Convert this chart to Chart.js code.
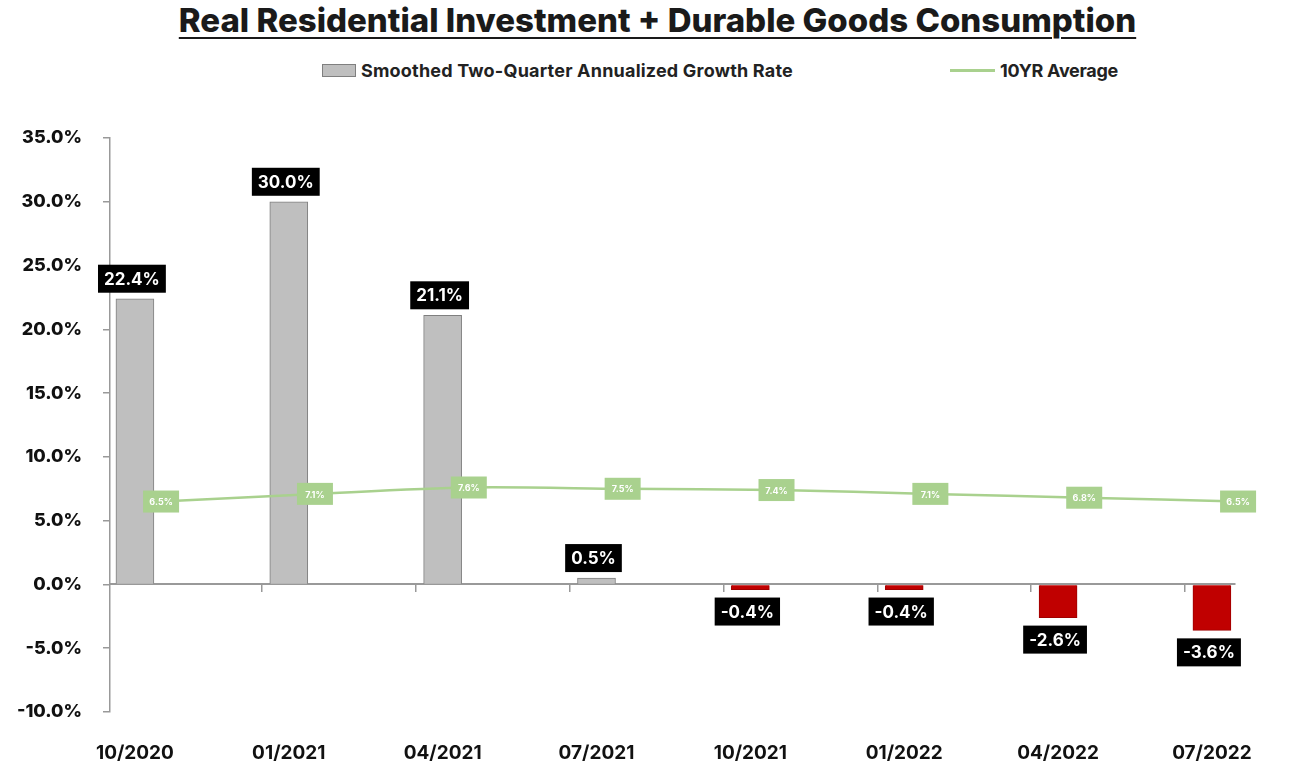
<!DOCTYPE html>
<html>
<head>
<meta charset="utf-8">
<script src="https://cdn.jsdelivr.net/npm/chart.js@4.4.1/dist/chart.umd.min.js"></script>
<style>
    body { margin: 0; background: #fff; font-family: Inter, sans-serif; }
    #wrap { position: relative; width: 1315px; height: 770px; }
    #title {
        position: absolute; top: 0px; left: 0; width: 1315px; text-align: center;
        font-size: 33px; font-weight: 800; color: #1a1a1a;
        text-decoration: underline; text-decoration-thickness: 2px; text-underline-offset: 5px;
    }
    #legend {
        position: absolute; top: 60px; left: 322px; display: flex; align-items: center;
        font-size: 18px; font-weight: 700; color: #222; letter-spacing: 0.2px;
    }
    .sw-bar { width: 32px; height: 11px; background: #bfbfbf; border: 1px solid #7f7f7f; margin-right: 5px; }
    .sw-line { width: 45px; height: 3px; background: #a9d18e; margin: 0 5px 0 157px; }
    #legend .last { letter-spacing: -0.3px; }
    canvas { position: absolute; left: 0; top: 0; }
</style>
</head>
<body>
<div id="wrap">
    <div id="title">Real Residential Investment + Durable Goods Consumption</div>
    <div id="legend">
        <span class="sw-bar"></span><span>Smoothed Two-Quarter Annualized Growth Rate</span>
        <span class="sw-line"></span><span class="last">10YR Average</span>
    </div>
    <canvas id="chart"></canvas>
</div>
<script>
const categories = ['10/2020', '01/2021', '04/2021', '07/2021', '10/2021', '01/2022', '04/2022', '07/2022'];
const growthRate = [22.4, 30.0, 21.1, 0.5, -0.4, -0.4, -2.6, -3.6];
const tenYearAvg = [6.5, 7.1, 7.6, 7.5, 7.4, 7.1, 6.8, 6.5];
const yTicks = [-10, -5, 0, 5, 10, 15, 20, 25, 30, 35];

// x layout: bars sit at the index, category edges a bit to the left, line a bit to the right
const X_MIN = -0.162;
const X_MAX = 7.15;
const EDGE_SHIFT = -0.175;
const LINE_SHIFT = 0.17;

Chart.defaults.font.family = 'Inter';

const valueLabels = {
    id: 'valueLabels',
    afterDatasetsDraw(chart) {
        const ctx = chart.ctx;
        ctx.save();
        ctx.textAlign = 'center';
        ctx.textBaseline = 'middle';

        ctx.font = '700 17px Inter';
        chart.getDatasetMeta(0).data.forEach((bar, i) => {
            const v = growthRate[i];
            const txt = v.toFixed(1) + '%';
            const w = ctx.measureText(txt).width + 12, h = 28;
            const cy = v >= 0 ? bar.y - 6 - h / 2 : bar.y + 8 + h / 2;
            ctx.fillStyle = '#000';
            ctx.fillRect(bar.x - 3 - w / 2, cy - h / 2, w, h);
            ctx.fillStyle = '#fff';
            ctx.fillText(txt, bar.x - 3, cy + 1);
        });

        ctx.font = '700 9px Inter';
        chart.getDatasetMeta(1).data.forEach((pt, i) => {
            const txt = tenYearAvg[i].toFixed(1) + '%';
            ctx.fillStyle = '#a9d18e';
            ctx.fillRect(pt.x - 18, pt.y - 11, 36, 22);
            ctx.fillStyle = '#fff';
            ctx.fillText(txt, pt.x, pt.y + 1);
        });
        ctx.restore();
    }
};

new Chart(document.getElementById('chart'), {
    type: 'bar',
    data: {
        datasets: [{
            label: 'Smoothed Two-Quarter Annualized Growth Rate',
            data: growthRate.map((v, i) => ({ x: i, y: v })),
            backgroundColor: growthRate.map(v => v >= 0 ? '#bfbfbf' : '#c00000'),
            borderColor: growthRate.map(v => v >= 0 ? '#7f7f7f' : '#a00000'),
            borderWidth: 1,
            barThickness: 38,
            grouped: false,
            xAxisID: 'x',
            order: 2,
        }, {
            type: 'line',
            label: '10YR Average',
            data: tenYearAvg.map((v, i) => ({ x: i, y: v })),
            borderColor: '#a9d18e',
            borderWidth: 2.5,
            pointRadius: 0,
            tension: 0.3,
            clip: false,
            xAxisID: 'xs',
            order: 1,
        }],
    },
    options: {
        responsive: true,
        maintainAspectRatio: false,
        animation: false,
        layout: { padding: { top: 138, right: 80, bottom: 0, left: 0 } },
        plugins: {
            legend: { display: false },
            tooltip: { enabled: false },
        },
        scales: {
            x: {
                type: 'linear',
                position: { y: 0 },
                min: X_MIN,
                max: X_MAX,
                offset: false,
                afterBuildTicks: s => { s.ticks = categories.slice(1).map((c, i) => ({ value: i + 1 + EDGE_SHIFT })); },
                ticks: { display: false },
                grid: { offset: false, drawOnChartArea: false, tickLength: 7, color: '#999', lineWidth: 1.5 },
                border: { color: '#999', width: 2 },
            },
            xl: {
                type: 'linear',
                position: 'bottom',
                min: X_MIN,
                max: X_MAX,
                offset: false,
                afterBuildTicks: s => { s.ticks = categories.map((c, i) => ({ value: i })); },
                afterFit: s => { s.height = 58; },
                ticks: {
                    callback: (v, i) => categories[i],
                    autoSkip: false,
                    maxRotation: 0,
                    padding: 22,
                    font: { size: 19, weight: '700' },
                    color: '#111',
                },
                grid: { display: false, offset: false },
                border: { display: false },
            },
            xs: {
                type: 'linear',
                display: false,
                min: X_MIN - LINE_SHIFT,
                max: X_MAX - LINE_SHIFT,
                offset: false,
                grid: { offset: false },
            },
            y: {
                min: yTicks[0],
                max: yTicks[yTicks.length - 1],
                afterBuildTicks: s => { s.ticks = yTicks.map(v => ({ value: v })); },
                afterFit: s => { s.width = 110; },
                ticks: {
                    callback: v => v.toFixed(1) + '%',
                    padding: 21,
                    font: { size: 18, weight: '800' },
                    color: '#111',
                },
                grid: { drawOnChartArea: false, tickLength: 7, color: '#999', lineWidth: 1.5 },
                border: { color: '#999', width: 1.5 },
            },
        },
    },
    plugins: [valueLabels],
});
</script>
</body>
</html>
